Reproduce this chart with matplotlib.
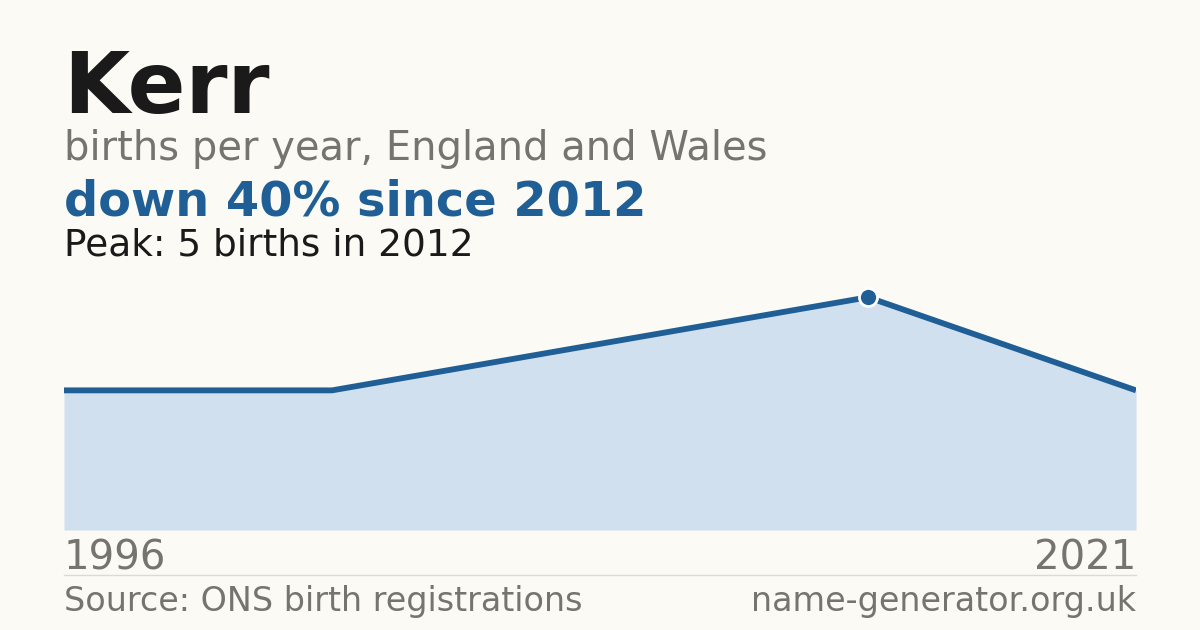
import matplotlib
matplotlib.use("Agg")
import matplotlib.pyplot as plt

# Data: births per year for the name, only years with data are plotted
years = [1996, 2002, 2007, 2012, 2021]
births = [3, 3, 4, 5, 3]
peak_idx = 3

name = "Kerr"
subtitle = "births per year, England and Wales"
headline = "down 40% since 2012"
peak_note = "Peak: 5 births in 2012"
source = "Source: ONS birth registrations"
site = "name-generator.org.uk"

BG = "#fbfaf5"
BLUE = "#1f5f96"
FILL = "#d0e0ef"
GREY = "#77736e"
DARK = "#1a1a1a"

W, H = 1200, 630
fig = plt.figure(figsize=(12, 6.3), dpi=100, facecolor=BG)


def fx(px):
    return px / W


def fy(py):
    return 1 - py / H


ax = fig.add_axes([fx(64), fy(530), fx(1136) - fx(64), fy(274) - fy(530)])
ax.set_facecolor(BG)
xs = list(range(len(births)))
ax.fill_between(xs, births, 0, color=FILL, lw=0)
ax.plot(xs, births, color=BLUE, lw=4.2, solid_capstyle="butt", solid_joinstyle="miter")
ax.plot(xs[peak_idx], births[peak_idx], "o", ms=13, color=BLUE,
        markeredgecolor="white", markeredgewidth=2, clip_on=False)
ax.set_xlim(0, len(births) - 1)
ax.set_ylim(0, max(births) * 1.1)
ax.axis("off")

fig.text(fx(63), fy(113), name, fontsize=61.5, fontweight="bold", color=DARK, va="baseline")
fig.text(fx(64), fy(160), subtitle, fontsize=28.8, color=GREY, va="baseline")
fig.text(fx(64), fy(215), headline, fontsize=34.5, fontweight="bold", color=BLUE, va="baseline")
fig.text(fx(64), fy(255), peak_note, fontsize=27, color=DARK, va="baseline")

fig.text(fx(64), fy(570), str(years[0]), fontsize=29, color=GREY, va="baseline")
fig.text(fx(1136), fy(570), str(years[-1]), fontsize=29, color=GREY, va="baseline", ha="right")

fig.add_artist(plt.Line2D([fx(64), fx(1136)], [fy(574.5), fy(574.5)], color="#dcdad4", lw=1))

fig.text(fx(64), fy(611), source, fontsize=24, color=GREY, va="baseline")
fig.text(fx(1136), fy(611), site, fontsize=24, color=GREY, va="baseline", ha="right")

fig.savefig("out.png", dpi=100, facecolor=BG)
